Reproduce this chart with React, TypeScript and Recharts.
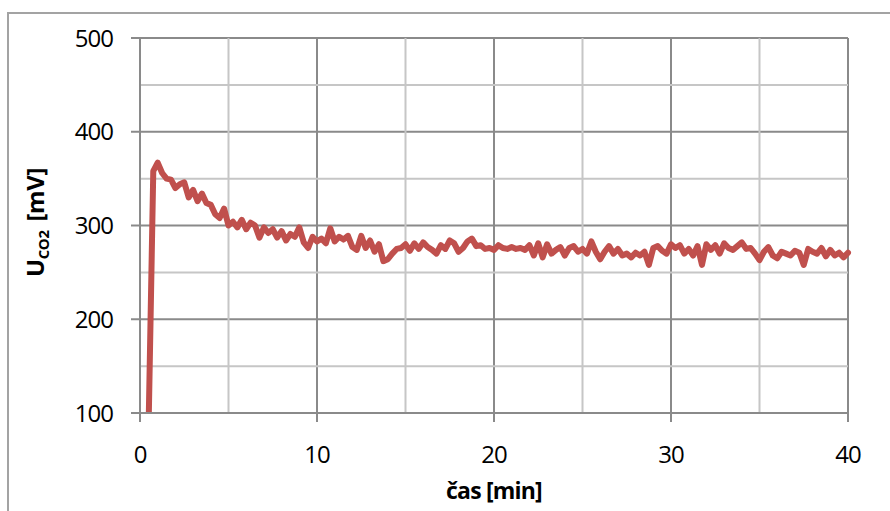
import { CartesianGrid, Line, LineChart, ReferenceLine, XAxis, YAxis } from "recharts";

// sampling of the recorder: first sample at 0.5 min, then every 0.25 min
const START_MIN = 0.5;
const STEP_MIN = 0.25;

// U_CO2 [mV]
const voltage = [
  100, 358, 367, 356, 350, 349, 340, 344, 346, 330, 338, 326, 334, 324, 322, 312,
  308, 318, 300, 304, 298, 306, 296, 303, 300, 287, 298, 292, 296, 287, 294, 284,
  291, 288, 298, 282, 276, 288, 283, 286, 281, 297, 283, 288, 285, 289, 277, 274,
  289, 276, 284, 272, 280, 262, 264, 270, 275, 276, 280, 273, 281, 275, 282, 277,
  274, 270, 279, 275, 284, 281, 272, 276, 283, 286, 278, 279, 275, 276, 274, 279,
  276, 275, 277, 275, 276, 274, 279, 268, 281, 266, 280, 270, 274, 277, 268, 276,
  278, 272, 275, 270, 283, 272, 264, 272, 278, 270, 275, 268, 270, 266, 271, 268,
  272, 258, 276, 278, 273, 270, 280, 276, 279, 270, 275, 268, 278, 258, 280, 274,
  279, 270, 281, 276, 274, 278, 282, 275, 276, 270, 263, 272, 277, 268, 265, 272,
  270, 268, 273, 271, 258, 275, 272, 270, 276, 267, 274, 268, 271, 266, 271,
];

const xTicks = [0, 10, 20, 30, 40];
const yTicks = [100, 200, 300, 400, 500];
const xMinorGrid = [5, 15, 25, 35];
const yMinorGrid = [150, 250, 350, 450];

const data = voltage.map((u, i) => ({ t: START_MIN + i * STEP_MIN, u }));

const FONT = "'Open Sans', 'Noto Sans', sans-serif";
const MAJOR = "#8a8a8a";
const MINOR = "#c6c6c6";
const tickStyle = { fill: "#000", fontSize: 24, fontFamily: FONT, letterSpacing: -1 };

function YTitle({ viewBox }: any) {
  const cx = viewBox.x + 44;
  const cy = viewBox.y + viewBox.height / 2 - 3;
  return (
    <text
      x={cx}
      y={cy}
      transform={`rotate(-90 ${cx} ${cy})`}
      textAnchor="middle"
      fontFamily={FONT}
      fontWeight={700}
      fontSize={24}
      letterSpacing={-0.4}
      fill="#000"
    >
      U
      <tspan fontSize={15} dy={5}>
        CO2
      </tspan>
      <tspan dy={-5} dx={9}>
        [mV]
      </tspan>
    </text>
  );
}

function XTitle({ viewBox }: any) {
  return (
    <text
      x={viewBox.x + viewBox.width / 2}
      y={viewBox.y + 86}
      textAnchor="middle"
      fontFamily={FONT}
      fontWeight={700}
      fontSize={23}
      letterSpacing={-0.8}
      fill="#000"
    >
      čas [min]
    </text>
  );
}

export default function App() {
  return (
    <div style={{ position: "absolute", left: 0, top: 0, width: 890, height: 511, background: "#fff", overflow: "hidden" }}>
      <div
        style={{
          position: "absolute",
          left: 7,
          top: 12,
          width: 900,
          height: 600,
          borderLeft: "2px solid #a3a3a3",
          borderTop: "2px solid #a3a3a3",
        }}
      />
      <LineChart
        width={890}
        height={511}
        data={data}
        margin={{ top: 38, right: 42, bottom: 0, left: 0 }}
        style={{ position: "absolute", left: 0, top: 0 }}
      >
        {xMinorGrid.map((v) => (
          <ReferenceLine key={`vx${v}`} x={v} stroke={MINOR} strokeWidth={2} />
        ))}
        {yMinorGrid.map((v) => (
          <ReferenceLine key={`hy${v}`} y={v} stroke={MINOR} strokeWidth={2} />
        ))}
        <CartesianGrid stroke={MAJOR} strokeWidth={2} />
        <XAxis
          dataKey="t"
          type="number"
          domain={[0, 40]}
          ticks={xTicks}
          height={98}
          tickSize={9}
          tickMargin={24}
          tick={tickStyle}
          axisLine={{ stroke: MAJOR, strokeWidth: 2 }}
          tickLine={{ stroke: MAJOR, strokeWidth: 2 }}
          label={<XTitle />}
        />
        <YAxis
          type="number"
          domain={[100, 500]}
          ticks={yTicks}
          width={140}
          tickSize={9}
          tickMargin={18}
          tick={tickStyle}
          axisLine={{ stroke: MAJOR, strokeWidth: 2 }}
          tickLine={{ stroke: MAJOR, strokeWidth: 2 }}
          allowDataOverflow
          label={<YTitle />}
        />
        <Line
          dataKey="u"
          type="linear"
          stroke="#c0504d"
          strokeWidth={6}
          strokeLinejoin="round"
          strokeLinecap="round"
          dot={false}
          activeDot={false}
          isAnimationActive={false}
        />
      </LineChart>
    </div>
  );
}
